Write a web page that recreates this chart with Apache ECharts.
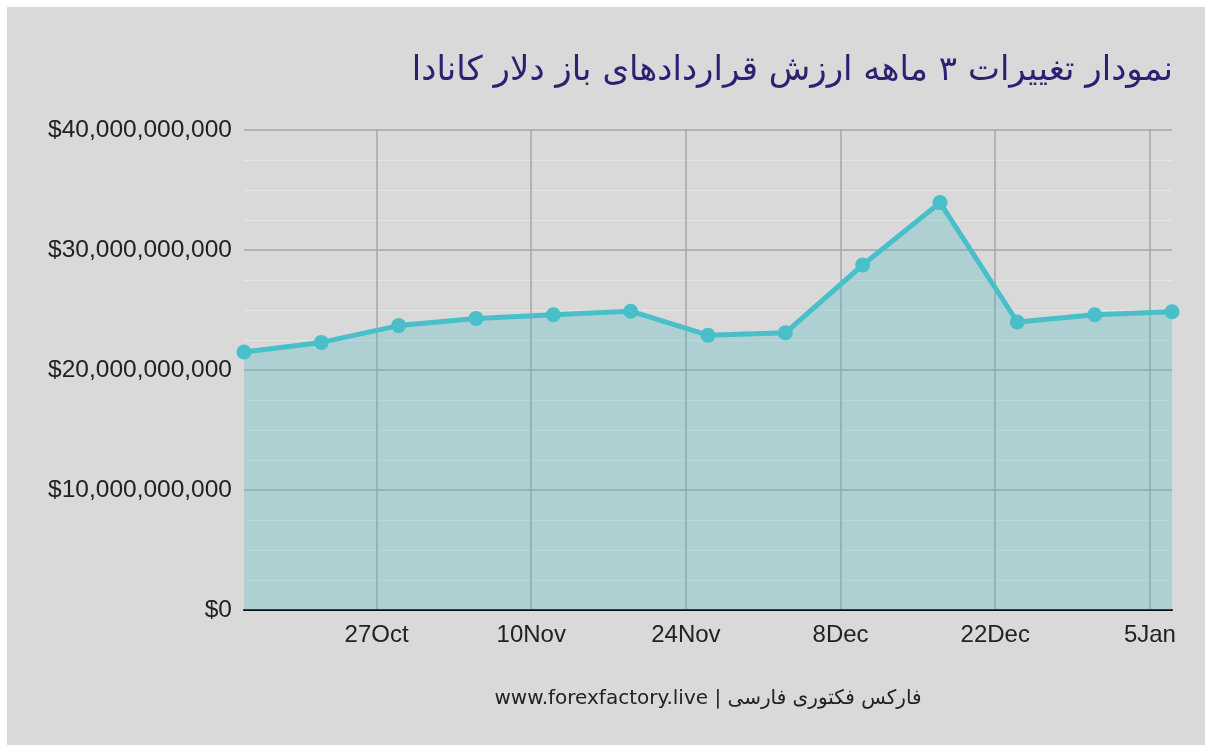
<!DOCTYPE html>
<html>
<head>
<meta charset="utf-8">
<script src="https://cdn.jsdelivr.net/npm/echarts@6/dist/echarts.min.js"></script>
<style>
    html, body { margin: 0; padding: 0; background: #ffffff; }
    #main { position: absolute; left: 7px; top: 7px; width: 1198px; height: 738px; background: #d9d9d9; }
</style>
</head>
<body>
<div id="main"></div>
<script>
// report dates (weekly)
var dates = ['2019-10-15', '2019-10-22', '2019-10-29', '2019-11-05', '2019-11-12', '2019-11-19', '2019-11-26',
    '2019-12-03', '2019-12-10', '2019-12-17', '2019-12-24', '2019-12-31', '2020-01-07'];
// open interest value, billions of dollars
var values = [21.5, 22.3, 23.7, 24.3, 24.6, 24.9, 22.9, 23.1, 28.75, 33.95, 24.0, 24.6, 24.85];
var tickDates = ['2019-10-27', '2019-11-10', '2019-11-24', '2019-12-08', '2019-12-22', '2020-01-05'];
var monthNames = ['Jan', 'Feb', 'Mar', 'Apr', 'May', 'Jun', 'Jul', 'Aug', 'Sep', 'Oct', 'Nov', 'Dec'];

var titleText = 'نمودار تغییرات ۳ ماهه ارزش قراردادهای باز دلار کانادا';
var footerText = 'www.forexfactory.live | فارکس فکتوری فارسی';

var DAY = 86400000;
var base = Date.UTC(2019, 9, 13);

// day number counted from 13 Oct 2019
function toDay(s) {
    var p = s.split('-');
    return Math.round((Date.UTC(+p[0], +p[1] - 1, +p[2]) - base) / DAY);
}

var seriesData = [];
for (var i = 0; i < dates.length; i++) {
    seriesData.push([toDay(dates[i]), values[i] * 1e9]);
}
var tickValues = tickDates.map(toDay);

function money(v) {
    return '$' + String(Math.round(v)).replace(/\B(?=(\d{3})+(?!\d))/g, ',');
}

var myChart = echarts.init(document.getElementById('main'));
myChart.setOption({
    backgroundColor: '#d9d9d9',
    animation: false,
    title: [{
        text: titleText,
        right: 27,
        top: 42,
        textStyle: { color: '#2f1f72', fontSize: 34, fontWeight: 'normal', fontFamily: 'DejaVu Sans' }
    }, {
        text: footerText,
        left: 696,
        top: 677,
        textAlign: 'center',
        textStyle: { color: '#222222', fontSize: 20, fontWeight: 'normal', fontFamily: 'DejaVu Sans' }
    }],
    grid: { left: 237, right: 33, top: 123, bottom: 135 },
    xAxis: {
        type: 'value',
        min: toDay(dates[0]),
        max: toDay(dates[dates.length - 1]),
        axisLine: { show: true, lineStyle: { color: '#111111', width: 2 } },
        axisTick: { show: false, customValues: tickValues },
        axisLabel: {
            customValues: tickValues,
            color: '#222222',
            fontSize: 24,
            fontFamily: 'Liberation Sans',
            margin: 13,
            formatter: function (v) {
                var d = new Date(base + v * DAY);
                return d.getUTCDate() + monthNames[d.getUTCMonth()];
            }
        },
        splitLine: { show: true, lineStyle: { color: '#a5a5a5', width: 1.5 } }
    },
    yAxis: {
        type: 'value',
        min: 0,
        max: 40e9,
        interval: 10e9,
        axisLine: { show: false },
        axisTick: { show: false },
        axisLabel: {
            color: '#222222',
            fontSize: 24.5,
            fontFamily: 'Liberation Sans',
            margin: 12,
            formatter: money
        },
        splitLine: { show: true, lineStyle: { color: '#a5a5a5', width: 1.5 } },
        minorTick: { show: false, splitNumber: 4 },
        minorSplitLine: { show: true, lineStyle: { color: '#e4e4e4', width: 1 } }
    },
    series: [{
        type: 'line',
        data: seriesData,
        symbol: 'circle',
        symbolSize: 15,
        showAllSymbol: true,
        lineStyle: { color: '#48bfc9', width: 5 },
        itemStyle: { color: '#48bfc9' },
        areaStyle: { color: '#4bbec8', opacity: 0.3 }
    }]
});
</script>
</body>
</html>
